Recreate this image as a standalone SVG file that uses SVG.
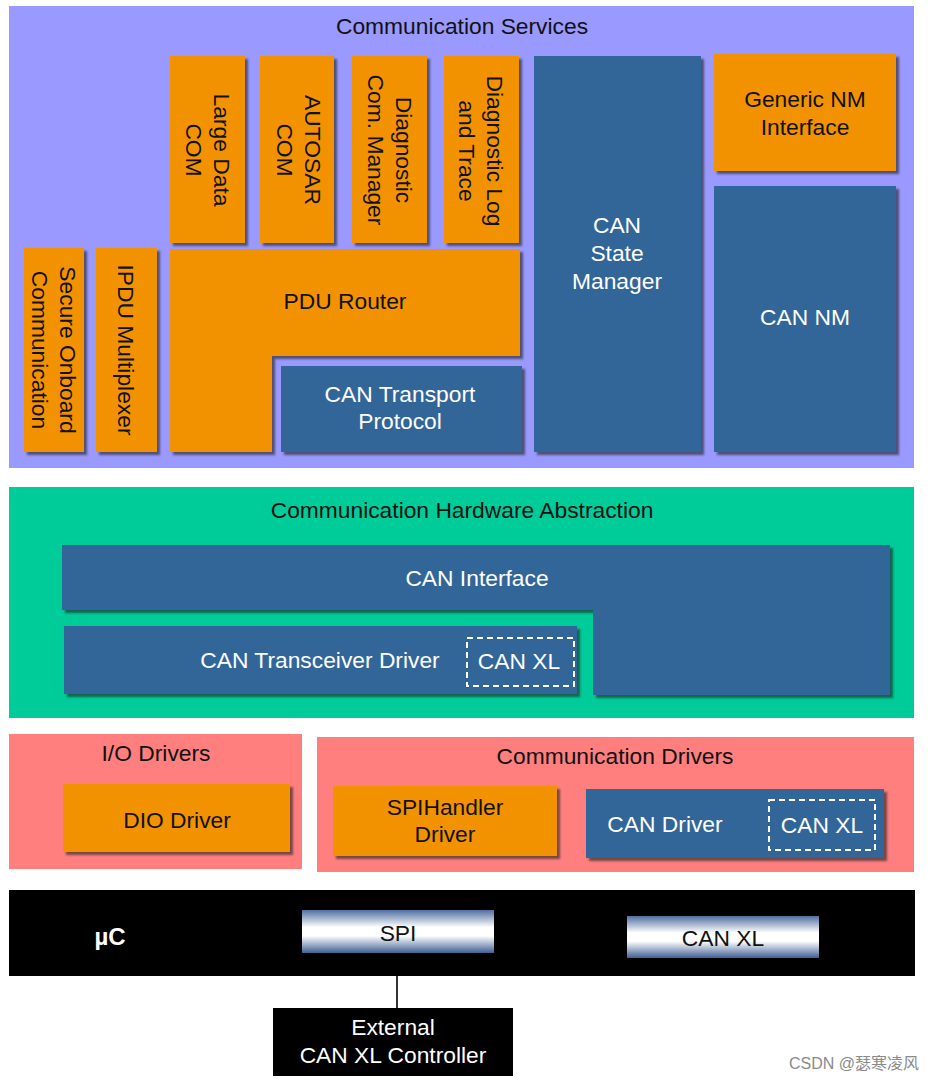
<svg xmlns="http://www.w3.org/2000/svg" width="937" height="1082" viewBox="0 0 937 1082">
<defs>
<filter id="sh" x="-10%" y="-10%" width="130%" height="130%">
<feDropShadow dx="3" dy="3" stdDeviation="1" flood-color="#222" flood-opacity="0.6"/>
</filter>
<linearGradient id="hw" x1="0" y1="0" x2="0" y2="1">
<stop offset="0" stop-color="#4f6f9f"/>
<stop offset="0.4" stop-color="#ffffff"/>
<stop offset="0.6" stop-color="#ffffff"/>
<stop offset="1" stop-color="#3f5f93"/>
</linearGradient>
</defs>
<style>
text{font-family:"Liberation Sans",Arial,sans-serif;font-size:22.8px;text-anchor:middle}
.or{fill:#f39200;filter:url(#sh)}
.bl{fill:#336699;filter:url(#sh)}
.w{fill:#ffffff}
.k{fill:#111111}
.dash{fill:none;stroke:#ffffff;stroke-width:2;stroke-dasharray:6 4}
</style>
<rect width="937" height="1082" fill="#ffffff"/>

<g id="communication-services">
<rect x="9" y="6" width="905" height="462" fill="#9999ff"/>
<text class="k" x="462" y="34">Communication Services</text>
</g>

<g id="large-data-com">
<rect class="or" x="170" y="56" width="75" height="187"/>
<g transform="translate(208,150) rotate(90)"><text class="k" x="0" y="-5.6">Large Data</text><text class="k" x="0" y="21.9">COM</text></g>
</g>
<g id="autosar-com">
<rect class="or" x="260" y="56" width="74" height="187"/>
<g transform="translate(299,150) rotate(90)"><text class="k" x="0" y="-5.6">AUTOSAR</text><text class="k" x="0" y="21.9">COM</text></g>
</g>
<g id="diagnostic-com-manager">
<rect class="or" x="352" y="56" width="75" height="187"/>
<g transform="translate(390,150) rotate(90)"><text class="k" x="0" y="-5.6">Diagnostic</text><text class="k" x="0" y="21.9">Com. Manager</text></g>
</g>
<g id="diagnostic-log-trace">
<rect class="or" x="444" y="56" width="75" height="187"/>
<g transform="translate(481,151) rotate(90)"><text class="k" x="0" y="-5.6">Diagnostic Log</text><text class="k" x="0" y="21.9">and Trace</text></g>
</g>
<g id="can-state-manager">
<rect class="bl" x="534" y="56" width="167" height="396"/>
<text class="w" x="617" y="233">CAN</text>
<text class="w" x="617" y="261">State</text>
<text class="w" x="617" y="289">Manager</text>
</g>
<g id="generic-nm-interface">
<rect class="or" x="714" y="54" width="182" height="117"/>
<text class="k" x="805" y="107">Generic NM</text>
<text class="k" x="805" y="135">Interface</text>
</g>
<g id="can-nm">
<rect class="bl" x="714" y="186" width="182" height="266"/>
<text class="w" x="805" y="325">CAN NM</text>
</g>
<g id="secure-onboard-communication">
<rect class="or" x="24" y="248" width="60" height="204"/>
<g transform="translate(54,350) rotate(90)"><text class="k" x="0" y="-5.6">Secure Onboard</text><text class="k" x="0" y="21.9">Communication</text></g>
</g>
<g id="ipdu-multiplexer">
<rect class="or" x="96" y="248" width="61" height="204"/>
<g transform="translate(126,350) rotate(90)"><text class="k" x="0" y="8">IPDU Multiplexer</text></g>
</g>
<g id="pdu-router">
<path class="or" d="M170,249 H520 V356 H272 V452 H170 Z"/>
<text class="k" x="345" y="309">PDU Router</text>
</g>
<g id="can-transport-protocol">
<rect class="bl" x="281" y="366" width="241" height="86"/>
<text class="w" x="400" y="402">CAN Transport</text>
<text class="w" x="400" y="429">Protocol</text>
</g>

<g id="communication-hardware-abstraction">
<rect x="9" y="487" width="905" height="231" fill="#00cc99"/>
<text class="k" x="462" y="518">Communication Hardware Abstraction</text>
</g>
<g id="can-interface">
<path class="bl" d="M62,545 H890 V695 H593 V610 H62 Z"/>
<text class="w" x="477" y="586">CAN Interface</text>
</g>
<g id="can-transceiver-driver">
<rect class="bl" x="64" y="626" width="513" height="68"/>
<text class="w" x="320" y="668">CAN Transceiver Driver</text>
<rect class="dash" x="467" y="638" width="107" height="48"/>
<text class="w" x="519" y="669">CAN XL</text>
</g>

<g id="io-drivers">
<rect x="9" y="734" width="293" height="135" fill="#ff7f7f"/>
<text class="k" x="156" y="761">I/O Drivers</text>
</g>
<g id="dio-driver">
<rect class="or" x="63" y="784" width="227" height="68"/>
<text class="k" x="177" y="828">DIO Driver</text>
</g>
<g id="communication-drivers">
<rect x="317" y="737" width="597" height="135" fill="#ff7f7f"/>
<text class="k" x="615" y="764">Communication Drivers</text>
</g>
<g id="spihandler-driver">
<rect class="or" x="333" y="786" width="224" height="70"/>
<text class="k" x="445" y="815">SPIHandler</text>
<text class="k" x="445" y="842">Driver</text>
</g>
<g id="can-driver">
<rect class="bl" x="586" y="789" width="298" height="69"/>
<text class="w" x="665" y="832">CAN Driver</text>
<rect class="dash" x="769" y="800" width="106" height="50"/>
<text class="w" x="822" y="833">CAN XL</text>
</g>

<g id="uc">
<rect x="9" y="890" width="906" height="86" fill="#000000"/>
<text class="w" x="110" y="945" style="font-weight:bold;font-size:24px">µC</text>
</g>
<g id="spi">
<rect x="302" y="910" width="192" height="43" fill="url(#hw)"/>
<text class="k" x="398" y="941">SPI</text>
</g>
<g id="can-xl-hw">
<rect x="627" y="916" width="192" height="42" fill="url(#hw)"/>
<text class="k" x="723" y="946">CAN XL</text>
</g>
<g id="external-can-xl-controller">
<rect x="273" y="1008" width="240" height="68" fill="#000000"/>
<text class="w" x="393" y="1035">External</text>
<text class="w" x="393" y="1063">CAN XL Controller</text>
</g>

<g id="connectors">
<line x1="397" y1="976" x2="397" y2="1008" stroke="#333333" stroke-width="2"/>
</g>

<text x="854" y="1069" style="font-family:'Liberation Sans','Noto Sans CJK SC',sans-serif;font-size:16px;fill:#8a8a8a">CSDN @瑟寒凌风</text>
</svg>
